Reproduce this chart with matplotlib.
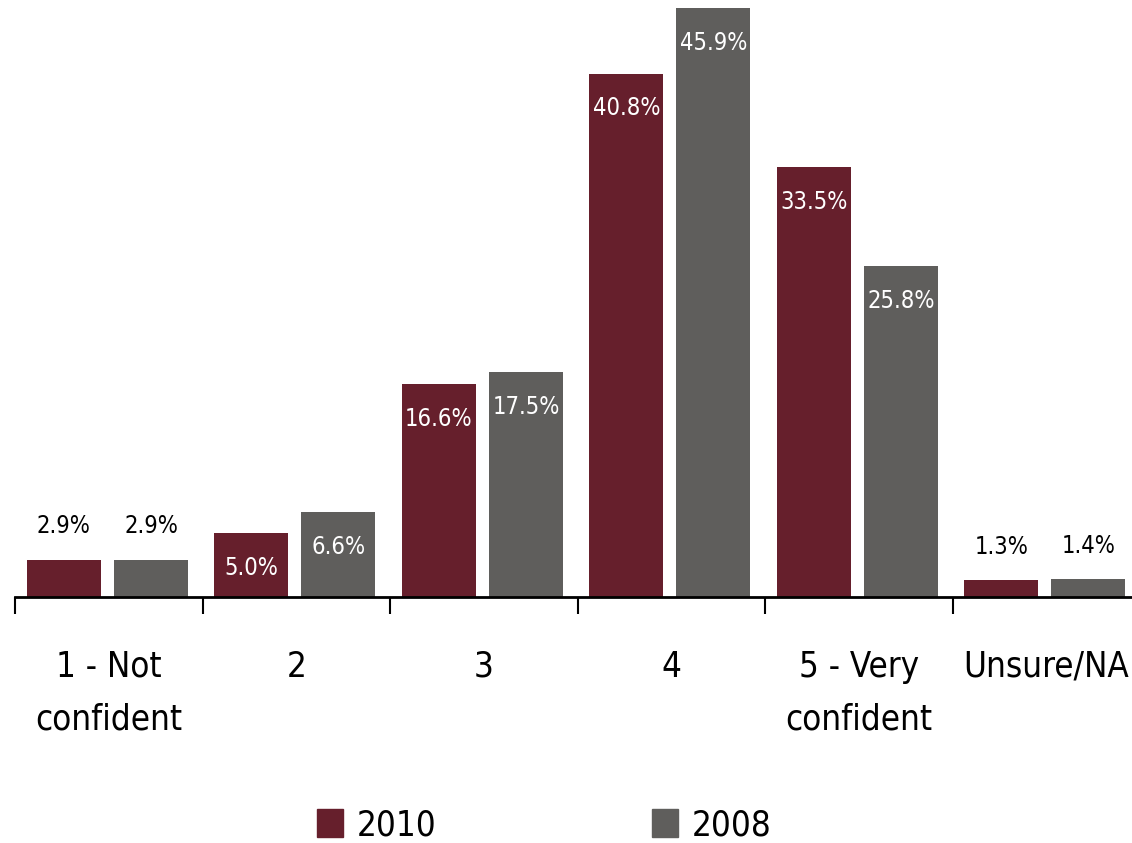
import numpy as np
import matplotlib.pyplot as plt
from matplotlib.patches import Patch

# DATOS
categories = ["1 - Not\nconfident", "2", "3", "4", "5 - Very\nconfident", "Unsure/NA"]
series = ["2010", "2008"]
v2010 = [2.9, 5.0, 16.6, 40.8, 33.5, 1.3]
v2008 = [2.9, 6.6, 17.5, 45.9, 25.8, 1.4]
colors = ["#661f2c", "#5f5e5c"]

plt.rcParams['font.family'] = ['DejaVu Sans']
plt.rcParams['font.stretch'] = 'condensed'

fig = plt.figure(figsize=(11.32, 8.43), dpi=100)
ax = fig.add_axes([15/1132, 1 - 597/843, 1125/1132, 597/843])

x = np.arange(len(categories))
w = 0.395
offs = [-0.24, 0.225]
for k, vals in enumerate([v2010, v2008]):
    bars = ax.bar(x + offs[k], vals, width=w, color=colors[k])
    for b, v in zip(bars, vals):
        cx = b.get_x() + b.get_width()/2
        if v < 4:
            ax.annotate(f"{v:.1f}%", (cx, v), xytext=(0, 24), textcoords="offset points",
                        ha="center", va="center", fontsize=17, color="black")
        else:
            ax.annotate(f"{v:.1f}%", (cx, v), xytext=(0, -25), textcoords="offset points",
                        ha="center", va="center", fontsize=17, color="white")

ax.set_xlim(-0.5, len(categories) - 0.5)
ax.set_ylim(0, 597/12.83)

for s in ["top", "right", "left"]:
    ax.spines[s].set_visible(False)
ax.spines["bottom"].set_linewidth(2)
ax.set_yticks([])

ax.set_xticks(x)
ax.set_xticklabels(categories, fontsize=25, linespacing=1.7)
ax.tick_params(axis="x", which="major", length=0, pad=38)
ax.set_xticks(np.arange(len(categories) + 1) - 0.5, minor=True)
ax.tick_params(axis="x", which="minor", length=12, width=1.5, direction="out")

h = [Patch(color=colors[i], label=series[i]) for i in range(2)]
fig.legend(handles=h, loc="center", bbox_to_anchor=(544/1132, 1 - 825/843), ncol=2, frameon=False,
           fontsize=25, handlelength=0.75, handleheight=0.9, handletextpad=0.4, columnspacing=6.2)

plt.savefig("out.png", dpi=100)
